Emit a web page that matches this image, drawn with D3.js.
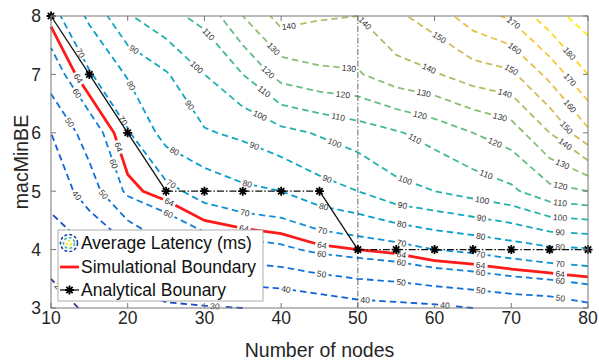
<!DOCTYPE html>
<html><head><meta charset="utf-8">
<script src="https://cdn.jsdelivr.net/npm/d3@7"></script>
<style>body{margin:0;background:#fff}text{font-family:"Liberation Sans",Arial,sans-serif}</style>
</head><body><svg id="c" width="599" height="362"></svg>
<script>
// ---------------- data ----------------
const nodes = [10,15,20,25,30,35,40,45,50,55,60,65,70,75,80];
const macMinBE = [3,4,5,6,7,8];
// average latency (ms) grid, one array per macMinBE row
const latencyBE3 = [15,22,26,28,29,30,31,33,36,37,38,40,42,43,47];
const latencyBE4 = [25,30,38,48,54,56,58,62,64,66,70,72,75,78,79];
const latencyBE5 = [33,45,62,67,74,78,80,86,90,97,100,104,108,117,120];
const latencyBE6 = [40,55,69,84,89,92,97,101,105,109,114,120,125,140,158];
const latencyBE7 = [55,69,81,89,100,110,124,128,129,136,139,145,148,163,180];
const latencyBE8 = [66,82,99,107,113,130,144,141,140,148,155,165,172,186,195];
const contourLevels = [20,30,40,50,60,70,80,90,100,110,120,130,140,150,160,170,180,190];
const boundaryLevel = 64;
const analyticalNodes = [10,15,20,25,30,35,40,45,50,55,60,65,70,75,80];
const analyticalBE = [8,7,6,5,5,5,5,5,4,4,4,4,4,4,4];
const markerNode = 50;
const xTicks = [10,20,30,40,50,60,70,80];
const yTicks = [3,4,5,6,7,8];
const legendLabels = ["Average Latency (ms)","Simulational Boundary","Analytical Bounary"];
const parula = ["#352a87","#0f5cdd","#1481d6","#06a4ca","#2eb7a4","#87bf77","#d1bb59","#fec832","#f9fb0e"];

// ---------------- setup ----------------
const svg = d3.select('#c');
const L = 51, R = 588, T = 16, B = 308;
const x = d3.scaleLinear().domain([10,80]).range([L,R]);
const y = d3.scaleLinear().domain([3,8]).range([B,T]);
const rows = [latencyBE3,latencyBE4,latencyBE5,latencyBE6,latencyBE7,latencyBE8];
const nx = nodes.length, ny = macMinBE.length;
const values = rows.flat();
const uToX = d3.scaleLinear().domain([0.5,nx-0.5]).range([nodes[0],nodes[nx-1]]);
const vToY = d3.scaleLinear().domain([0.5,ny-0.5]).range([macMinBE[0],macMinBE[ny-1]]);
const zmin = d3.min(values), zmax = d3.max(values);
const color = d3.scaleLinear().domain(parula.map((c,i)=>zmin+i*(zmax-zmin)/(parula.length-1))).range(parula);

function isolines(level){
  const c = d3.contours().size([nx,ny]).thresholds([level])(values)[0];
  const lines = [];
  const inside = p => p[0]>0.25 && p[0]<nx-0.25 && p[1]>0.25 && p[1]<ny-0.25;
  c.coordinates.forEach(poly => poly.forEach(ring => {
    let pts = ring.slice(0,-1);
    const k = pts.findIndex(p => !inside(p));
    if (k < 0) { lines.push([...pts, pts[0]]); return; }
    pts = pts.slice(k).concat(pts.slice(0,k));
    let cur = [];
    pts.forEach(p => { if (inside(p)) cur.push(p); else { if (cur.length>1) lines.push(cur); cur = []; } });
    if (cur.length>1) lines.push(cur);
  }));
  return lines.map(l => l.map(p => [x(uToX(p[0])), y(vToY(p[1]))]));
}

function cum(pts){ const A=[0]; for(let i=1;i<pts.length;i++) A.push(A[i-1]+Math.hypot(pts[i][0]-pts[i-1][0],pts[i][1]-pts[i-1][1])); return A; }
function at(pts,A,s){
  let i=0; while(i<A.length-2 && A[i+1]<s) i++;
  const seg=A[i+1]-A[i]; const t=seg>0?(s-A[i])/seg:0;
  return [pts[i][0]+t*(pts[i+1][0]-pts[i][0]), pts[i][1]+t*(pts[i+1][1]-pts[i][1])];
}
function sub(pts,A,a,b){
  const out=[at(pts,A,a)];
  for(let i=0;i<pts.length;i++) if(A[i]>a && A[i]<b) out.push(pts[i]);
  out.push(at(pts,A,b)); return out;
}
function labelize(pts,text,fs,spacing,first){
  const A=cum(pts), total=A[A.length-1];
  const half=text.length*fs*0.29+2;
  const labels=[];
  if(total>=2*half+14){
    let s=Math.max(half+4,first);
    if(s+half>total-4) s=total/2;
    while(s+half<=total-4){ labels.push(s); s+=spacing; }
  }
  const pieces=[]; let a=0;
  labels.forEach(s=>{ if(s-half>a) pieces.push(sub(pts,A,a,s-half)); a=s+half; });
  if(total>a) pieces.push(sub(pts,A,a,total));
  const lab=labels.map(s=>{
    const p=at(pts,A,s), p0=at(pts,A,Math.max(0,s-half)), p1=at(pts,A,Math.min(total,s+half));
    let ang=Math.atan2(p1[1]-p0[1],p1[0]-p0[0])*180/Math.PI;
    if(ang>90) ang-=180; if(ang<-90) ang+=180;
    return {p,ang,text};
  });
  return {pieces,lab};
}

const line = d3.line();
const gC = svg.append('g');
const gL = svg.append('g');
function drawLevel(level, stroke, width, dash){
  isolines(level).forEach(pts=>{
    const r = labelize(pts, String(level), 8.5, 80, 28);
    r.pieces.forEach(pc=>gC.append('path').attr('d',line(pc)).attr('fill','none')
      .attr('stroke',stroke).attr('stroke-width',width).attr('stroke-dasharray',dash));
    r.lab.forEach(l=>gL.append('text').attr('transform',`translate(${l.p[0]},${l.p[1]}) rotate(${l.ang})`)
      .attr('text-anchor','middle').attr('dy','0.35em').attr('font-size',8.5).attr('fill','#333').text(l.text));
  });
}
contourLevels.forEach(lv=>drawLevel(lv, color(lv), 1.8, '6.5,4'));
drawLevel(boundaryLevel, '#ff1a1a', 2.8, null);

// vertical dash-dot line
svg.append('line').attr('x1',x(markerNode)).attr('x2',x(markerNode)).attr('y1',B).attr('y2',T)
  .attr('stroke','#444').attr('stroke-width',0.8).attr('stroke-dasharray','6,2,1.5,2');

// analytical boundary
for(let i=1;i<analyticalNodes.length;i++){
  const flat = analyticalBE[i]===analyticalBE[i-1];
  svg.append('line').attr('x1',x(analyticalNodes[i-1])).attr('y1',y(analyticalBE[i-1]))
    .attr('x2',x(analyticalNodes[i])).attr('y2',y(analyticalBE[i]))
    .attr('stroke','#111').attr('stroke-width',1.3).attr('stroke-dasharray',flat?'7,2,1.5,2':null);
}
const star = r => `M${-r},0L${r},0M0,${-r}L0,${r}M${-r*0.7},${-r*0.7}L${r*0.7},${r*0.7}M${-r*0.7},${r*0.7}L${r*0.7},${-r*0.7}`;
analyticalNodes.forEach((n,i)=>svg.append('path').attr('d',star(4.5))
  .attr('transform',`translate(${x(n)},${y(analyticalBE[i])})`).attr('stroke','#000').attr('stroke-width',1.8).attr('fill','none'));

// axes box and ticks
const axC = '#777';
svg.append('rect').attr('x',L).attr('y',T).attr('width',R-L).attr('height',B-T).attr('fill','none').attr('stroke',axC).attr('stroke-width',1);
xTicks.forEach(t=>{
  svg.append('line').attr('x1',x(t)).attr('x2',x(t)).attr('y1',B).attr('y2',B-5).attr('stroke',axC);
  svg.append('line').attr('x1',x(t)).attr('x2',x(t)).attr('y1',T).attr('y2',T+5).attr('stroke',axC);
  svg.append('text').attr('x',x(t)).attr('y',324).attr('text-anchor','middle').attr('font-size',17.5).attr('fill','#262626').text(t);
});
yTicks.forEach(t=>{
  svg.append('line').attr('x1',L).attr('x2',L+5).attr('y1',y(t)).attr('y2',y(t)).attr('stroke',axC);
  svg.append('line').attr('x1',R).attr('x2',R-5).attr('y1',y(t)).attr('y2',y(t)).attr('stroke',axC);
  svg.append('text').attr('x',41).attr('y',y(t)).attr('dy','0.36em').attr('text-anchor','end').attr('font-size',17.5).attr('fill','#262626').text(t);
});
svg.append('text').attr('x',(L+R)/2).attr('y',357).attr('text-anchor','middle').attr('font-size',19.5).attr('fill','#262626').text('Number of nodes');
svg.append('text').attr('transform',`translate(28,${(T+B)/2}) rotate(-90)`).attr('text-anchor','middle').attr('font-size',19.5).attr('fill','#262626').text('macMinBE');

// legend
const lg = svg.append('g');
lg.append('rect').attr('x',58).attr('y',230).attr('width',205).attr('height',71).attr('fill','#fff').attr('stroke','#999').attr('stroke-width',0.8);
const ic = [[8.5,color(25)],[5.5,color(110)],[2.5,color(185)]];
ic.forEach(c=>lg.append('circle').attr('cx',69).attr('cy',243).attr('r',c[0]).attr('fill','none').attr('stroke',c[1]).attr('stroke-width',1.6).attr('stroke-dasharray','3,2'));
lg.append('line').attr('x1',60).attr('x2',79).attr('y1',267).attr('y2',267).attr('stroke','#ff1a1a').attr('stroke-width',2.8);
lg.append('line').attr('x1',60).attr('x2',79).attr('y1',290).attr('y2',290).attr('stroke','#111').attr('stroke-width',1.3);
lg.append('path').attr('d',star(4.5)).attr('transform','translate(69.5,290)').attr('stroke','#000').attr('stroke-width',1.8);
legendLabels.forEach((t,i)=>lg.append('text').attr('x',81).attr('y',[243,267,290][i]).attr('dy','0.36em').attr('font-size',17.5).attr('fill','#111').text(t));
</script></body></html>
